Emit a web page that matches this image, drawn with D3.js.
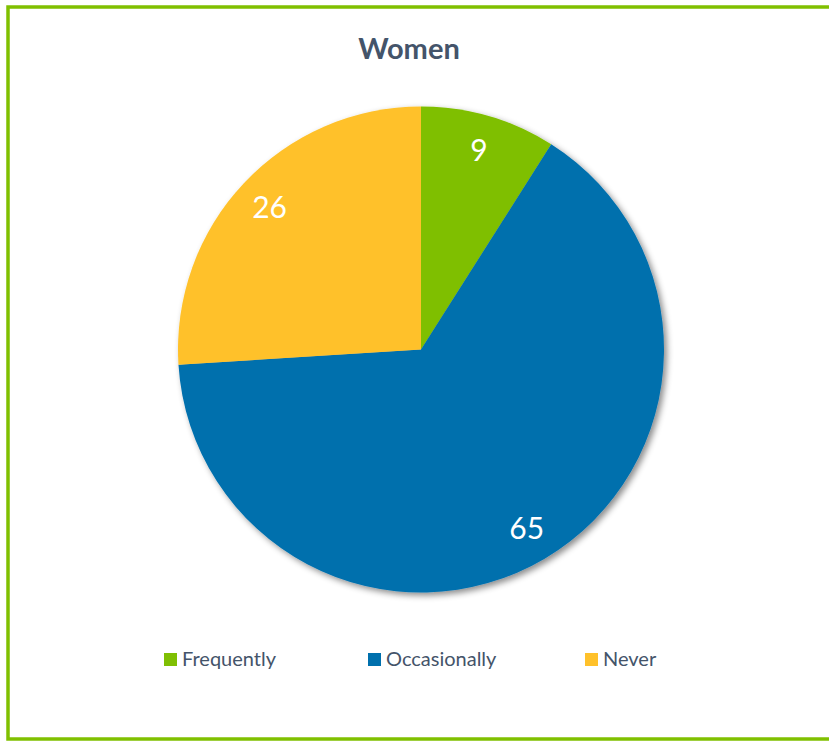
<!DOCTYPE html>
<html><head><meta charset="utf-8">
<script src="https://cdn.jsdelivr.net/npm/d3@7"></script>
<style>body{margin:0;background:#fff}svg{display:block}</style>
</head><body>
<script>
const categories = ["Frequently", "Occasionally", "Never"];
const values = [9, 65, 26];
const colors = ["#7FBF03", "#0070AD", "#FFC12A"];
const title = "Women";

const W = 829, H = 741;
const svg = d3.select("body").append("svg").attr("width", W).attr("height", H);
const defs = svg.append("defs");
const f = defs.append("filter").attr("id", "sh").attr("x", "-20%").attr("y", "-20%").attr("width", "140%").attr("height", "140%");
f.append("feDropShadow").attr("dx", 3).attr("dy", 3).attr("stdDeviation", 3).attr("flood-color", "#000").attr("flood-opacity", 0.45);

svg.append("rect").attr("x", 8).attr("y", 7).attr("width", 830).attr("height", 732)
  .attr("fill", "none").attr("stroke", "#80C000").attr("stroke-width", 3.5);

const font = "Lato, 'Open Sans', sans-serif";
svg.append("text").attr("x", 409).attr("y", 59).attr("text-anchor", "middle")
  .attr("font-family", font).attr("font-weight", "bold").attr("font-size", 29)
  .attr("fill", "#44546A").text(title);

const cx = 421, cy = 349.5, r = 243;
const pie = d3.pie().sort(null).value(d => d);
const arcs = pie(values);
const arc = d3.arc().innerRadius(0).outerRadius(r);
const labelArc = d3.arc().innerRadius(r * 0.855).outerRadius(r * 0.855);
const g = svg.append("g").attr("transform", `translate(${cx},${cy})`);
g.append("g").attr("filter", "url(#sh)").selectAll("path").data(arcs).join("path")
  .attr("d", arc).attr("fill", (d, i) => colors[i]);
g.selectAll("text").data(arcs).join("text")
  .attr("transform", d => `translate(${labelArc.centroid(d)})`)
  .attr("text-anchor", "middle").attr("dy", "0.36em")
  .attr("font-family", font).attr("font-size", 30).attr("fill", "#fff")
  .text(d => d.data);

const legX = [164, 368, 585];
const lg = svg.append("g");
categories.forEach((c, i) => {
  lg.append("rect").attr("x", legX[i]).attr("y", 653).attr("width", 13).attr("height", 13).attr("fill", colors[i]);
  lg.append("text").attr("x", legX[i] + 18).attr("y", 666).attr("font-family", font)
    .attr("font-size", 20).attr("fill", "#44546A").text(c);
});
</script>
</body></html>
